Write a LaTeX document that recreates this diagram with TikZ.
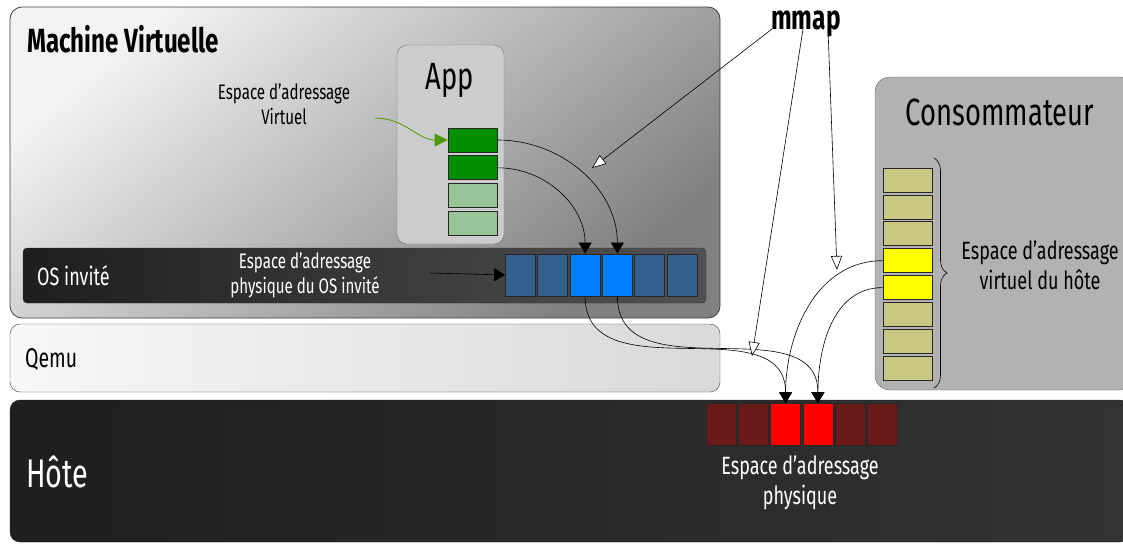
\documentclass[tikz,border=0pt]{standalone}
\usepackage{fontspec}
\setmainfont[FakeStretch=0.72]{Fira Sans}
\usetikzlibrary{arrows.meta,decorations.pathreplacing,positioning}

\definecolor{bdark}{HTML}{34608D}
\definecolor{blight}{HTML}{0080FF}
\definecolor{rdark}{HTML}{6B1A1A}
\definecolor{rlight}{HTML}{FF0000}
\definecolor{gdark}{HTML}{008F00}
\definecolor{glight}{HTML}{98C498}
\definecolor{ydark}{HTML}{C8C882}
\definecolor{ylight}{HTML}{FFFF00}
\definecolor{garrow}{HTML}{4C9A00}

\begin{document}
\begin{tikzpicture}[
    x=1pt, y=-1pt,
    every node/.style={inner sep=0pt},
    hcell/.style={draw=black!85, line width=0.8pt, minimum width=30pt, minimum height=42pt},
    vcell/.style={draw=black!85, line width=0.8pt, minimum width=49pt, minimum height=24pt},
    lbl/.style={align=center, font=\fontsize{21}{25}\selectfont},
    biglbl/.style={align=center, font=\fontsize{25}{30}\selectfont},
    map/.style={-{Triangle[length=11pt,width=13pt]}, line width=0.6pt},
    mm/.style={-{Triangle[open,length=14pt,width=11pt,fill=white]}, line width=0.6pt}
]
\useasboundingbox (0,0) rectangle (1123,544);

% boites
\draw[rounded corners=12pt, draw=black!75, line width=0.8pt, top color=black!5, bottom color=black!50, shading angle=40]
    (10,7) rectangle (720,318);
\draw[rounded corners=10pt, draw=black!55, fill=black!20] (397,45) rectangle (504,244);
\draw[rounded corners=4pt, draw=black!80, left color=black!88, right color=black!68] (23,248) rectangle (706,303);
\draw[rounded corners=10pt, draw=black!75, left color=black!3, right color=black!15] (10,324) rectangle (720,392);
\draw[rounded corners=10pt, draw=black!90, left color=black!88, right color=black!80] (10,400) rectangle (1130,542);
\draw[rounded corners=15pt, draw=black!60, fill=black!30] (875,77) rectangle (1135,390);

% titres
\node[anchor=west, font=\fontsize{33.5}{38}\selectfont\bfseries] (vm) at (27,39) {Machine Virtuelle};
\node[font=\fontsize{38}{44}\selectfont] (app) at (450,80) {App};
\node[anchor=west, font=\fontsize{25}{30}\selectfont, text=white] (os) at (37,276) {OS invité};
\node[anchor=west, font=\fontsize{27}{32}\selectfont] (qemu) at (25,359) {Qemu};
\node[anchor=west, font=\fontsize{40}{46}\selectfont, text=white] (hote) at (26,472) {Hôte};
\node[font=\fontsize{38}{44}\selectfont] (cons) at (1000,112) {Consommateur};
\node[anchor=base, font=\fontsize{34}{40}\selectfont\bfseries] (mmap) at (806,29) {mmap};

% cases
\foreach \i/\c in {1/gdark,2/gdark,3/glight,4/glight}
    \node[vcell, fill=\c] (g\i) at (472.5,{140+27.8*(\i-1)}) {};
\foreach \i/\c in {1/bdark,2/bdark,3/blight,4/blight,5/bdark,6/bdark}
    \node[hcell, fill=\c] (b\i) at ({520.5+32.3*(\i-1)},275) {};
\foreach \i/\c in {1/rdark,2/rdark,3/rlight,4/rlight,5/rdark,6/rdark}
    \node[hcell, fill=\c] (r\i) at ({721+32.3*(\i-1)},424.5) {};
\foreach \i/\c in {1/ydark,2/ydark,3/ydark,4/ylight,5/ylight,6/ydark,7/ydark,8/ydark}
    \node[vcell, fill=\c] (y\i) at (907.5,{180+26.9*(\i-1)}) {};

% legendes
\node[lbl] (lvirt) at (284,104) {Espace d’adressage\\Virtuel};
\node[lbl, text=white] (lgos) at (305,275) {Espace d’adressage\\physique du OS invité};
\node[biglbl, text=white] (lphys) at (800,483) {Espace d’adressage\\physique};
\node[biglbl] (lhote) at (1040,265) {Espace d’adressage\\virtuel du hôte};

\coordinate (gstart) at (375,118);
\coordinate (ostart) at (430,273);
\draw[-{Triangle[length=13pt,width=13pt]}, garrow, line width=0.8pt] (gstart) to[out=0,in=180] (g1.west);
\draw[map] (ostart) -- (b1.west);

\draw[decorate, decoration={brace, amplitude=13pt}, line width=0.6pt] (934,158) -- (934,388);

% correspondances
\draw[map] (g1.east) to[out=0,in=90] (b4.north);
\draw[map] (g2.east) to[out=0,in=90] (b3.north);
\draw[map] (b3.south) to[out=-90,in=90,looseness=1.1] (r3.north);
\draw[map] (b4.south) to[out=-90,in=90,looseness=1.1] (r4.north);
\draw[map] (y4.west) to[out=180,in=90] (r3.north);
\draw[map] (y5.west) to[out=180,in=90] (r4.north);

% mmap
\coordinate (m1) at (592,168);
\coordinate (m2) at (752,356);
\coordinate (m3) at (837,270);
\draw[mm] ([xshift=-34pt]mmap.base) -- (m1);
\draw[mm] ([xshift=-3pt]mmap.base) -- (m2);
\draw[mm] ([xshift=22pt]mmap.base) -- (m3);
\end{tikzpicture}
\end{document}
